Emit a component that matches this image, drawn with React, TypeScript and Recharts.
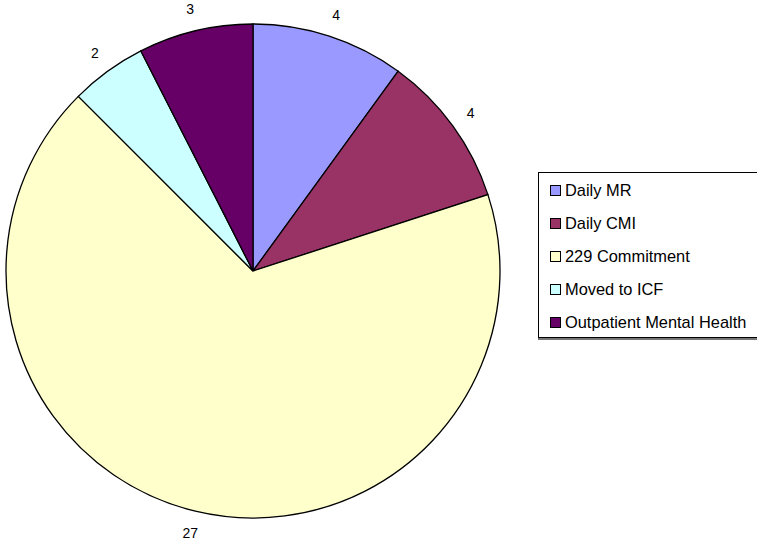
import React from "react";
import { PieChart, Pie, Cell, Legend } from "recharts";

const categories = ["Daily MR", "Daily CMI", "229 Commitment", "Moved to ICF", "Outpatient Mental Health"];
const counts = [4, 4, 27, 2, 3];
const colors = ["#9999FF", "#993366", "#FFFFCC", "#CCFFFF", "#660066"];

const data = categories.map((name, i) => ({ name, value: counts[i] }));

const RAD = Math.PI / 180;

const renderLabel = (props: any) => {
  const { cx, cy, midAngle, outerRadius, value } = props;
  const r = outerRadius + 22;
  const x = cx + r * Math.cos(-midAngle * RAD);
  const y = cy + r * Math.sin(-midAngle * RAD);
  return (
    <text x={x} y={y} textAnchor="middle" dominantBaseline="central" fill="#000" fontSize={14} fontFamily="Liberation Sans, Arial, sans-serif">
      {value}
    </text>
  );
};

const LegendContent = () => (
  <div
    style={{
      width: 240,
      height: 166,
      border: "1px solid #000",
      boxShadow: "0 2px 0 #777",
      background: "#fff",
      boxSizing: "border-box",
      paddingTop: 1,
      fontFamily: "Liberation Sans, Arial, sans-serif",
      fontSize: 16.4,
      color: "#000",
      overflow: "visible",
    }}
  >
    {data.map((d, i) => (
      <div key={d.name} style={{ display: "flex", alignItems: "center", height: 33, paddingLeft: 11, whiteSpace: "nowrap" }}>
        <span
          style={{
            display: "inline-block",
            width: 9,
            height: 9,
            background: colors[i],
            border: "1px solid #000",
            marginRight: 4,
            flexShrink: 0,
          }}
        />
        <span>{d.name}</span>
      </div>
    ))}
  </div>
);

export default function App() {
  return (
    <div style={{ position: "absolute", left: 0, top: 0, width: 757, height: 542, background: "#fff" }}>
      <PieChart width={757} height={542} margin={{ top: 0, right: 0, bottom: 0, left: 0 }}>
        <Pie
          data={data}
          dataKey="value"
          nameKey="name"
          cx={253}
          cy={271}
          outerRadius={247}
          startAngle={90}
          endAngle={-270}
          stroke="#000"
          strokeWidth={1.3}
          label={renderLabel}
          labelLine={false}
          isAnimationActive={false}
        >
          {data.map((d, i) => (
            <Cell key={d.name} fill={colors[i]} />
          ))}
        </Pie>
        <Legend
          content={<LegendContent />}
          wrapperStyle={{ position: "absolute", left: 538, top: 172, width: 240, margin: 0, padding: 0 }}
        />
      </PieChart>
    </div>
  );
}
